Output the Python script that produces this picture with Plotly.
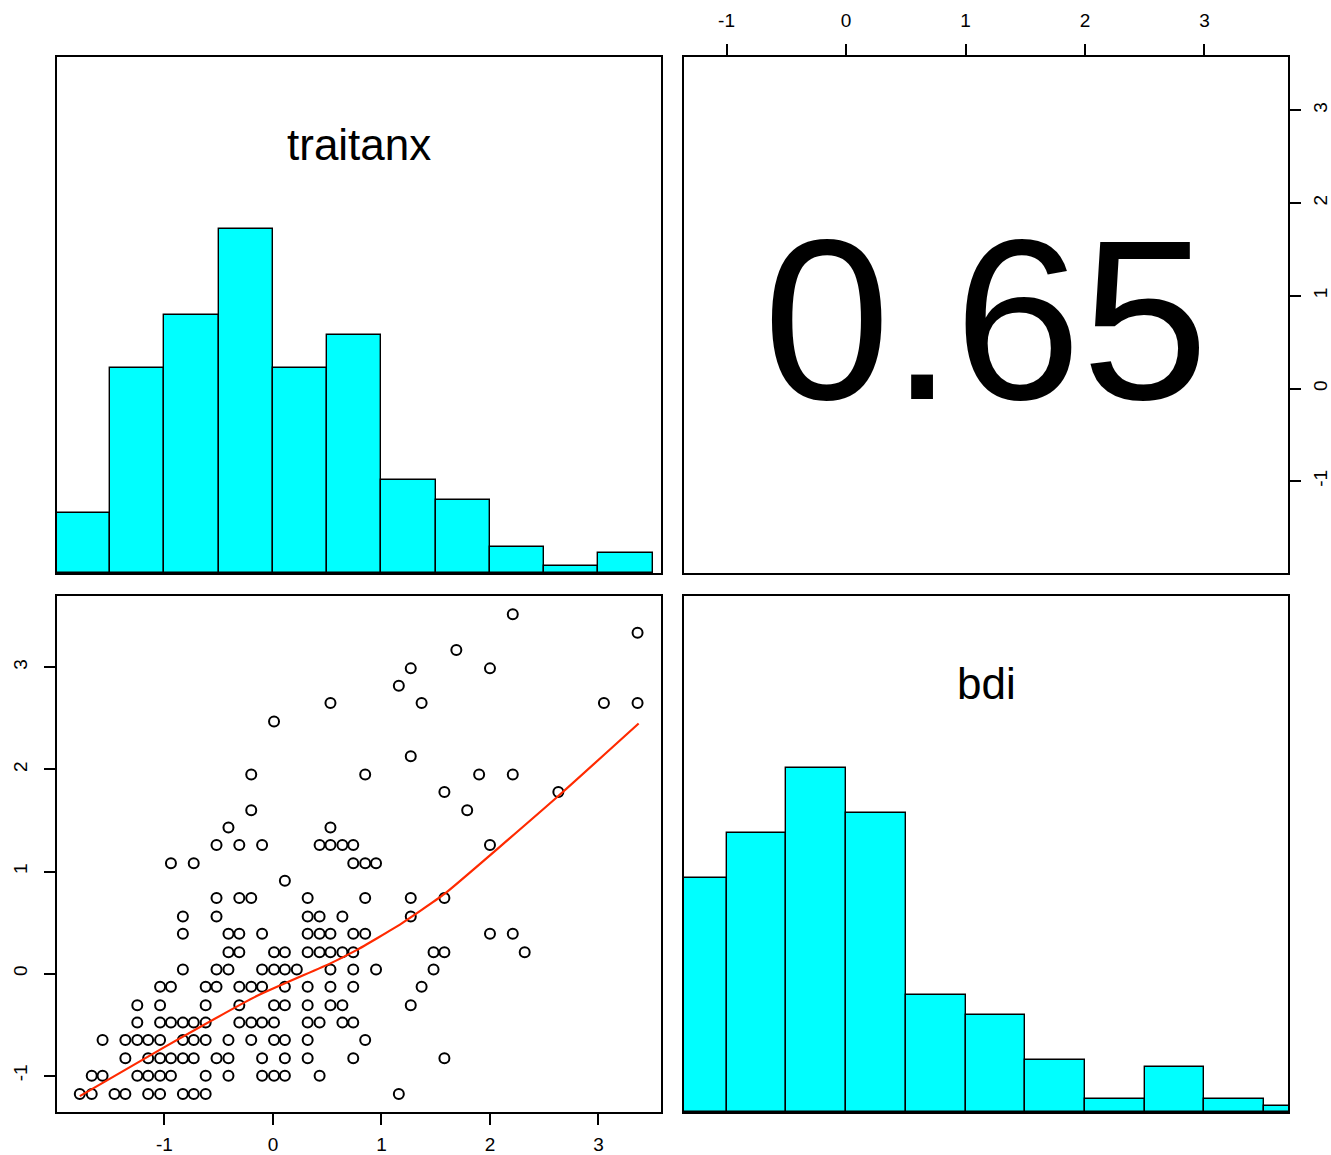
import plotly.graph_objects as go

W, H = 1331, 1155

# ---------------- data ----------------
var_labels = ["traitanx", "bdi"]
r_text = "0.65"
tick_vals = [-1, 0, 1, 2, 3]
tick_text = ["-1", "0", "1", "2", "3"]

traitanx_range = [-1.99, 3.576]
bdi_range = [-1.356, 3.699]

traitanx_breaks = [-2.0, -1.5, -1.0, -0.5, 0.0, 0.5, 1.0, 1.5, 2.0, 2.5, 3.0, 3.5]
traitanx_counts = [9, 31, 39, 52, 31, 36, 14, 11, 4, 1, 3]
bdi_breaks = [-1.5, -1.0, -0.5, 0.0, 0.5, 1.0, 1.5, 2.0, 2.5, 3.0, 3.5, 4.0]
bdi_counts = [36, 43, 53, 46, 18, 15, 8, 2, 7, 2, 1]

scatter_x = [
    -1.78, -1.67, -1.46, -1.36, -1.15, -1.04, -0.83, -0.73, -0.62, 1.16,
    -1.67, -1.57, -1.25, -1.15, -1.04, -0.94, -0.62, -0.41, -0.10, 0.01, 0.11, 0.43,
    -1.36, -1.15, -1.04, -0.94, -0.83, -0.73, -0.52, -0.41, -0.10, 0.11, 0.32, 0.74, 1.58,
    -1.57, -1.36, -1.25, -1.15, -1.04, -0.83, -0.73, -0.62, -0.41, -0.20, 0.01, 0.11, 0.32, 0.85,
    -1.25, -1.04, -0.94, -0.83, -0.73, -0.62, -0.31, -0.20, -0.10, 0.01, 0.32, 0.43, 0.64, 0.74,
    -1.25, -1.04, -0.62, -0.31, 0.01, 0.11, 0.32, 0.53, 0.64, 1.27,
    -1.04, -0.94, -0.62, -0.52, -0.31, -0.20, -0.10, 0.11, 0.32, 0.53, 0.74, 1.37,
    -0.83, -0.52, -0.41, -0.10, 0.01, 0.11, 0.22, 0.53, 0.74, 0.95, 1.48,
    -0.41, -0.31, 0.01, 0.11, 0.32, 0.43, 0.53, 0.64, 0.74, 1.48, 1.58, 2.32,
    -0.83, -0.41, -0.31, -0.10, 0.32, 0.43, 0.53, 0.74, 0.85, 2.00, 2.21,
    -0.83, -0.52, 0.32, 0.43, 0.64, 1.27,
    -0.52, -0.31, -0.20, 0.32, 0.85, 1.27, 1.58,
    0.11,
    -0.94, -0.73, 0.74, 0.85, 0.95,
    -0.52, -0.31, -0.10, 0.43, 0.53, 0.64, 0.74, 2.00,
    -0.41, 0.53,
    -0.20, 1.79,
    1.58, 2.63,
    -0.20, 0.85, 1.90, 2.21,
    1.27,
    0.01,
    0.53, 1.37, 3.05, 3.36,
    1.16,
    1.27, 2.00,
    1.69,
    3.36,
    2.21,
]
scatter_y = (
    [-1.18] * 10 + [-1.00] * 12 + [-0.83] * 13 + [-0.65] * 14 + [-0.48] * 14
    + [-0.31] * 10 + [-0.13] * 12 + [0.04] * 11 + [0.21] * 12 + [0.39] * 11
    + [0.56] * 6 + [0.74] * 7 + [0.91] * 1 + [1.08] * 5 + [1.26] * 8
    + [1.43] * 2 + [1.60] * 2 + [1.78] * 2 + [1.95] * 4 + [2.13] * 1
    + [2.47] * 1 + [2.65] * 4 + [2.82] * 1 + [2.99] * 2 + [3.17] * 1
    + [3.34] * 1 + [3.52] * 1
)

smooth_x = [-1.78, -1.0, -0.15, 0.53, 0.77, 1.17, 1.58, 2.63, 3.37]
smooth_y = [-1.20, -0.72, -0.22, 0.10, 0.23, 0.48, 0.78, 1.74, 2.45]

# ---------------- figure ----------------
FONT = "Liberation Sans, Arial, Helvetica, sans-serif"
HIST_COL = "#00FFFF"
LINE_W = 1.6

def px_x(p):
    return p / W

def px_y(p):
    return 1 - p / H

dom_x_left = [px_x(57), px_x(661)]
dom_x_right = [px_x(684), px_x(1288)]
dom_y_top = [px_y(573), px_y(57)]
dom_y_bot = [px_y(1112), px_y(596)]

fig = go.Figure()

def hist_trace(breaks, counts, xa, ya):
    mx = max(counts)
    centers = [(breaks[k] + breaks[k + 1]) / 2 for k in range(len(counts))]
    widths = [breaks[k + 1] - breaks[k] for k in range(len(counts))]
    return go.Bar(
        x=centers, y=[c / mx for c in counts], width=widths,
        marker=dict(color=HIST_COL, line=dict(color="black", width=1.4)),
        xaxis=xa, yaxis=ya, hoverinfo="skip",
    )

fig.add_trace(hist_trace(traitanx_breaks, traitanx_counts, "x", "y"))
fig.add_trace(hist_trace(bdi_breaks, bdi_counts, "x4", "y4"))

# placeholder so that the correlation panel (x2/y2) is drawn
fig.add_trace(go.Scatter(x=[None], y=[None], mode="markers", xaxis="x2", yaxis="y2",
                         hoverinfo="skip"))

fig.add_trace(go.Scatter(
    x=scatter_x, y=scatter_y, mode="markers",
    marker=dict(symbol="circle-open", size=10, color="black", line=dict(width=2, color="black")),
    xaxis="x3", yaxis="y3", hoverinfo="skip",
))
fig.add_trace(go.Scatter(
    x=smooth_x, y=smooth_y, mode="lines", line=dict(color="#FF2A00", width=2.2, shape="spline", smoothing=0.4),
    xaxis="x3", yaxis="y3", hoverinfo="skip",
))

base_axis = dict(showline=True, linecolor="black", linewidth=LINE_W, mirror=True,
                 showgrid=False, zeroline=False, fixedrange=True, automargin=False)
no_ticks = dict(ticks="", showticklabels=False)
with_ticks = dict(ticks="outside", ticklen=11, tickwidth=LINE_W, tickcolor="black",
                  tickvals=tick_vals, ticktext=tick_text,
                  tickfont=dict(family=FONT, size=19, color="black"))

fig.update_layout(
    width=W, height=H, margin=dict(l=0, r=0, t=0, b=0, autoexpand=False),
    paper_bgcolor="white", plot_bgcolor="white", showlegend=False, bargap=0,
    xaxis=dict(domain=dom_x_left, range=traitanx_range, anchor="y", **base_axis, **no_ticks),
    yaxis=dict(domain=dom_y_top, range=[0, 1.5], anchor="x", **base_axis, **no_ticks),
    xaxis2=dict(domain=dom_x_right, range=bdi_range, anchor="y2", side="top",
                ticklabelstandoff=10, **base_axis, **with_ticks),
    yaxis2=dict(domain=dom_y_top, range=traitanx_range, anchor="x2", side="right",
                tickangle=-90, ticklabelstandoff=3, **base_axis, **with_ticks),
    xaxis3=dict(domain=dom_x_left, range=traitanx_range, anchor="y3",
                ticklabelstandoff=3, **base_axis, **with_ticks),
    yaxis3=dict(domain=dom_y_bot, range=bdi_range, anchor="x3",
                tickangle=-90, ticklabelstandoff=10, **base_axis, **with_ticks),
    xaxis4=dict(domain=dom_x_right, range=bdi_range, anchor="y4", **base_axis, **no_ticks),
    yaxis4=dict(domain=dom_y_bot, range=[0, 1.5], anchor="x4", **base_axis, **no_ticks),
)

fig.add_annotation(text=var_labels[0], xref="x domain", yref="y", x=0.5, y=1.245,
                   showarrow=False, font=dict(family=FONT, size=44, color="black"))
fig.add_annotation(text=var_labels[1], xref="x4 domain", yref="y4", x=0.5, y=1.245,
                   showarrow=False, font=dict(family=FONT, size=44, color="black"))
fig.add_annotation(text=r_text, xref="x2 domain", yref="y2 domain", x=0.5, y=0.49,
                   showarrow=False, font=dict(family=FONT, size=229, color="black"))

fig.write_html("out.html", config={"displayModeBar": False},
               post_script="document.body.style.margin='0';")
